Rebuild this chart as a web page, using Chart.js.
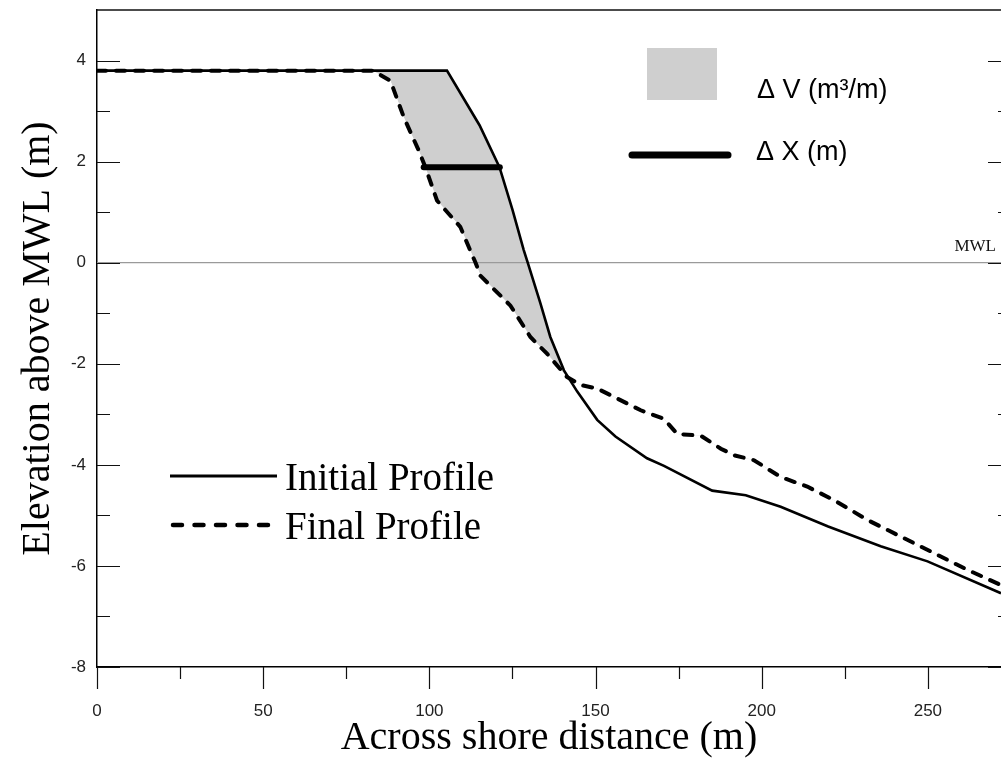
<!DOCTYPE html>
<html>
<head>
<meta charset="utf-8">
<script src="https://cdn.jsdelivr.net/npm/chart.js@4.4.1/dist/chart.umd.min.js"></script>
<style>
  html, body { margin: 0; padding: 0; background: #fff; overflow: hidden; }
  #chart1 { display: block; }
</style>
</head>
<body>
<canvas id="chart1" width="1001" height="759"></canvas>
<script>
// initial (pre-storm) profile
const initialX = [0, 105.3, 115.1, 121.1, 125.0, 128.4, 129.6, 133.4, 136.4, 140.5, 144.5, 150.5, 156.0, 165.5, 170.6, 185.1, 195.2, 205.7, 220.0, 235.8, 249.9, 272];
const initialY = [3.80, 3.80, 2.72, 1.89, 1.05, 0.25, 0.00, -0.80, -1.47, -2.13, -2.55, -3.11, -3.44, -3.87, -4.02, -4.51, -4.60, -4.83, -5.22, -5.61, -5.91, -6.54];

// final profile
const finalX = [0, 83.0, 88.3, 92.3, 96.8, 98.8, 102.3, 109.3, 112.3, 113.9, 115.4, 124.4, 130.4, 135.4, 141.4, 145.5, 150.5, 163.6, 170.6, 174.6, 181.6, 187.7, 191.7, 197.7, 205.7, 213.7, 221.8, 231.8, 248.9, 262.0, 272];
const finalY = [3.80, 3.80, 3.60, 2.88, 2.22, 1.89, 1.23, 0.71, 0.24, 0.00, -0.26, -0.85, -1.47, -1.80, -2.26, -2.42, -2.49, -2.92, -3.09, -3.39, -3.42, -3.68, -3.81, -3.91, -4.24, -4.43, -4.70, -5.09, -5.65, -6.08, -6.38];

// shoreline retreat bar (delta X) and mean water level
const deltaX = [98.3, 121.2];
const deltaXLevel = 1.89;
const mwlX = [0, 272];
const mwlLevel = 0;

const xMajorTicks = [0, 50, 100, 150, 200, 250];
const xMinorTicks = [25, 75, 125, 175, 225];
const yMajorTicks = [-8, -6, -4, -2, 0, 2, 4];
const yMinorTicks = [-7, -5, -3, -1, 1, 3];

const SERIF = "'Liberation Serif', 'Times New Roman', serif";
const SANS = "'Liberation Sans', Arial, sans-serif";
const FILL_GREY = '#cfcfcf';

const toPoints = (xs, ys) => xs.map((x, i) => ({ x: x, y: ys[i] }));

// ticks (inward on y, outward on x), top border and right ticks
const frame = {
  id: 'frame',
  afterDraw(chart) {
    const ctx = chart.ctx;
    const xs = chart.scales.x;
    const ys = chart.scales.y;
    const area = chart.chartArea;
    ctx.save();
    ctx.strokeStyle = '#111';
    ctx.lineWidth = 1.2;
    ctx.beginPath();
    xMajorTicks.forEach(v => {
      const px = Math.round(xs.getPixelForValue(v)) + 0.5;
      ctx.moveTo(px, area.bottom); ctx.lineTo(px, area.bottom + 22);
    });
    xMinorTicks.forEach(v => {
      const px = Math.round(xs.getPixelForValue(v)) + 0.5;
      ctx.moveTo(px, area.bottom); ctx.lineTo(px, area.bottom + 12);
    });
    yMajorTicks.forEach(v => {
      const py = Math.round(ys.getPixelForValue(v)) + 0.5;
      ctx.moveTo(area.left, py); ctx.lineTo(area.left + 23, py);
      ctx.moveTo(area.right, py); ctx.lineTo(area.right - 13, py);
    });
    yMinorTicks.forEach(v => {
      const py = Math.round(ys.getPixelForValue(v)) + 0.5;
      ctx.moveTo(area.left, py); ctx.lineTo(area.left + 13, py);
      ctx.moveTo(area.right, py); ctx.lineTo(area.right - 3, py);
    });
    ctx.stroke();
    ctx.lineWidth = 1.5;
    ctx.beginPath();
    ctx.moveTo(area.left, area.top); ctx.lineTo(area.right, area.top);
    ctx.stroke();

    // MWL label
    ctx.fillStyle = '#111';
    ctx.font = '17px ' + SERIF;
    ctx.textAlign = 'right';
    ctx.textBaseline = 'alphabetic';
    ctx.fillText('MWL', area.right - 5, ys.getPixelForValue(mwlLevel) - 12);

    // legends
    ctx.textAlign = 'left';
    ctx.fillStyle = FILL_GREY;
    ctx.fillRect(647, 48, 70, 52);
    ctx.fillStyle = '#000';
    ctx.font = '27px ' + SANS;
    ctx.fillText('\u0394 V (m\u00b3/m)', 757, 98);
    ctx.fillText('\u0394 X (m)', 756, 160);
    ctx.strokeStyle = '#000';
    ctx.lineCap = 'round';
    ctx.lineWidth = 7;
    ctx.beginPath(); ctx.moveTo(632, 155); ctx.lineTo(728, 155); ctx.stroke();

    ctx.lineWidth = 3;
    ctx.lineCap = 'butt';
    ctx.beginPath(); ctx.moveTo(170, 476); ctx.lineTo(277, 476); ctx.stroke();
    ctx.lineWidth = 4.5;
    ctx.lineCap = 'round';
    ctx.setLineDash([9, 12.5]);
    ctx.beginPath(); ctx.moveTo(173, 525); ctx.lineTo(277, 525); ctx.stroke();
    ctx.setLineDash([]);
    ctx.font = '39px ' + SERIF;
    ctx.fillText('Initial Profile', 285, 490);
    ctx.fillText('Final Profile', 285, 539);
    ctx.restore();
  }
};

new Chart(document.getElementById('chart1'), {
  type: 'line',
  data: {
    datasets: [
      {
        label: 'Delta X',
        data: toPoints(deltaX, deltaX.map(() => deltaXLevel)),
        borderColor: '#000',
        borderWidth: 6,
        borderCapStyle: 'round',
        pointRadius: 0,
        fill: false
      },
      {
        label: 'Initial Profile',
        data: toPoints(initialX, initialY),
        borderColor: '#000',
        borderWidth: 2.6,
        pointRadius: 0,
        fill: { target: 2, above: FILL_GREY, below: 'rgba(0,0,0,0)' }
      },
      {
        label: 'Final Profile',
        data: toPoints(finalX, finalY),
        borderColor: '#000',
        borderWidth: 4,
        borderDash: [9, 10],
        borderCapStyle: 'round',
        pointRadius: 0,
        fill: false
      },
      {
        label: 'MWL',
        data: toPoints(mwlX, mwlX.map(() => mwlLevel)),
        borderColor: '#9a9a9a',
        borderWidth: 1.2,
        pointRadius: 0,
        fill: false
      }
    ]
  },
  options: {
    responsive: false,
    devicePixelRatio: 1,
    animation: false,
    layout: { padding: { top: 10, right: 0, left: 0, bottom: 0 } },
    elements: { line: { tension: 0 } },
    plugins: {
      legend: { display: false },
      tooltip: { enabled: false },
      filler: { drawTime: 'beforeDatasetsDraw' }
    },
    scales: {
      x: {
        type: 'linear',
        position: 'bottom',
        min: 0,
        max: 272,
        afterFit: (scale) => { scale.height = 92; scale.paddingLeft = 0; scale.paddingRight = 0; },
        grid: { display: false, drawTicks: false },
        border: { display: true, color: '#000', width: 1.5 },
        ticks: {
          stepSize: 50,
          includeBounds: false,
          maxRotation: 0,
          padding: 34,
          color: '#222',
          font: { family: SANS, size: 17 }
        },
        title: {
          display: true,
          text: 'Across shore distance (m)',
          color: '#000',
          font: { family: SERIF, size: 40, lineHeight: 1 },
          padding: { top: 0, bottom: 1 }
        }
      },
      y: {
        type: 'linear',
        min: -8,
        max: 5,
        afterFit: (scale) => { scale.width = 97; scale.paddingTop = 0; scale.paddingBottom = 0; },
        grid: { display: false, drawTicks: false },
        border: { display: true, color: '#000', width: 1.5 },
        ticks: {
          stepSize: 2,
          includeBounds: false,
          padding: 11,
          color: '#222',
          font: { family: SANS, size: 17 }
        },
        title: {
          display: true,
          text: 'Elevation above MWL (m)',
          color: '#000',
          font: { family: SERIF, size: 40, lineHeight: 1 },
          padding: { top: 18, bottom: 0 }
        }
      }
    }
  },
  plugins: [frame]
});
</script>
</body>
</html>
